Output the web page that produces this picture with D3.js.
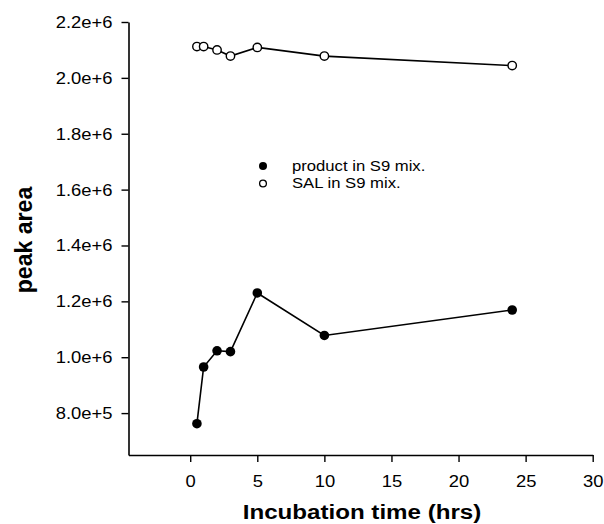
<!DOCTYPE html>
<html>
<head>
<meta charset="utf-8">
<script src="https://cdn.jsdelivr.net/npm/d3@7"></script>
<style>
  html, body { margin: 0; padding: 0; background: #fff; }
  svg { display: block; font-family: "Liberation Sans", Arial, sans-serif; }
</style>
</head>
<body>
<svg id="chart" width="604" height="524"></svg>
<script>
// ---- data ----
const timeHrs = [0.5, 1, 2, 3, 5, 10, 24];
const productArea = [762000, 965000, 1023000, 1020000, 1230000, 1078000, 1169000];
const salArea = [2112000, 2112000, 2100000, 2078000, 2109000, 2078000, 2044000];
const seriesNames = ["product in S9 mix.", "SAL in S9 mix."];
const xTicks = [0, 5, 10, 15, 20, 25, 30];
const yTicks = [800000, 1000000, 1200000, 1400000, 1600000, 1800000, 2000000, 2200000];
const yTickLabels = ["8.0e+5", "1.0e+6", "1.2e+6", "1.4e+6", "1.6e+6", "1.8e+6", "2.0e+6", "2.2e+6"];
const xTitle = "Incubation time (hrs)";
const yTitle = "peak area";

// ---- layout ----
const SX = 1.15; // horizontal stretch of the scanned text
const svg = d3.select("#chart");
const x = d3.scaleLinear().domain([-4.6, 30]).range([128.5, 592.7]);
const y = d3.scaleLinear().domain([650000, 2200000]).range([455, 22]);

// axes
const yAxis = d3.axisLeft(y).tickValues(yTicks)
  .tickFormat((d, i) => yTickLabels[i]).tickSize(7).tickSizeOuter(0);
const gy = svg.append("g").attr("transform", `translate(${x.range()[0]},0)`).call(yAxis);

const xAxis = d3.axisBottom(x).tickValues(xTicks).tickSize(7).tickSizeOuter(0);
const gx = svg.append("g").attr("transform", `translate(0,${y.range()[0]})`).call(xAxis);

[gx, gy].forEach(g => {
  g.select(".domain").attr("stroke", "#000").attr("stroke-width", 1.6);
  g.selectAll(".tick line").attr("stroke", "#000").attr("stroke-width", 1.4);
  g.selectAll(".tick text").attr("fill", "#000")
    .style("font-family", '"Liberation Sans", Arial, sans-serif')
    .style("font-size", "16px");
});
gy.selectAll(".tick text").attr("x", 0).attr("dy", "0.34em")
  .attr("transform", `translate(-16,0) scale(${SX},1)`);
gx.selectAll(".tick text").attr("y", 0).attr("dy", 0)
  .attr("transform", `translate(0,32) scale(${SX},1)`);

// lines
const line = d3.line().x(d => x(d[0])).y(d => y(d[1]));
const salPts = timeHrs.map((t, i) => [t, salArea[i]]);
const prodPts = timeHrs.map((t, i) => [t, productArea[i]]);

svg.append("path").datum(salPts).attr("d", line)
  .attr("fill", "none").attr("stroke", "#000").attr("stroke-width", 1.6);
svg.append("path").datum(prodPts).attr("d", line)
  .attr("fill", "none").attr("stroke", "#000").attr("stroke-width", 1.6);

svg.append("g").selectAll("circle").data(salPts).join("circle")
  .attr("cx", d => x(d[0])).attr("cy", d => y(d[1])).attr("r", 4.2)
  .attr("fill", "#fff").attr("stroke", "#000").attr("stroke-width", 1.4);
svg.append("g").selectAll("circle").data(prodPts).join("circle")
  .attr("cx", d => x(d[0])).attr("cy", d => y(d[1])).attr("r", 4.8)
  .attr("fill", "#000");

// legend
const leg = svg.append("g").attr("transform", "translate(263,166)");
leg.append("circle").attr("cx", 0).attr("cy", 0).attr("r", 4).attr("fill", "#000");
leg.append("circle").attr("cx", 0).attr("cy", 17.5).attr("r", 3.4)
  .attr("fill", "#fff").attr("stroke", "#000").attr("stroke-width", 1.3);
seriesNames.forEach((s, i) => {
  leg.append("text").text(s)
    .attr("transform", `translate(29,${i * 17 + 4.5}) scale(${SX},1)`)
    .style("font-size", "14.5px").attr("fill", "#000");
});

// axis titles
svg.append("text").text(xTitle)
  .attr("text-anchor", "middle")
  .attr("transform", `translate(362,519) scale(${SX},1)`)
  .style("font-size", "21px").style("font-weight", "bold").attr("fill", "#000");
svg.append("text").text(yTitle)
  .attr("text-anchor", "middle")
  .attr("transform", `translate(32,240) rotate(-90) scale(1.1,1.15)`)
  .style("font-size", "21px").style("font-weight", "bold").attr("fill", "#000");
</script>
</body>
</html>
